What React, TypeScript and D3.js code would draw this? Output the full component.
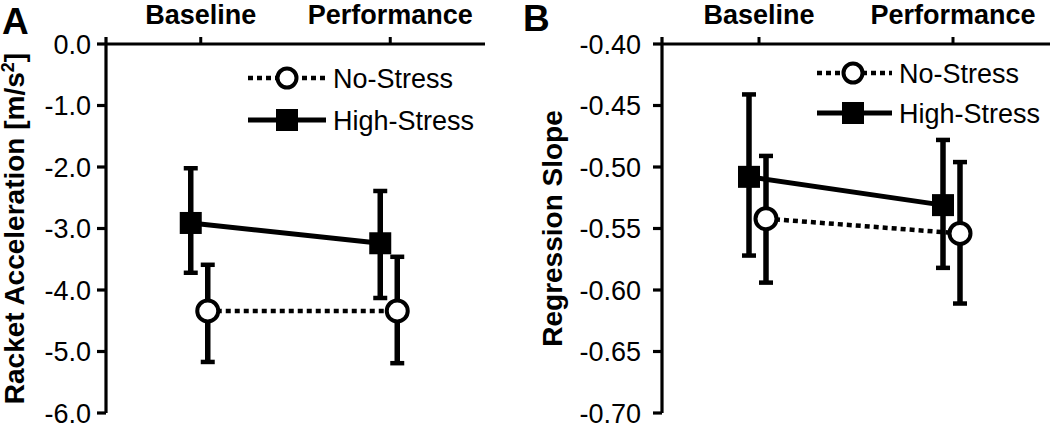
import React from "react";
import * as d3 from "d3";

const categories = ["Baseline", "Performance"];

// Panel A: Racket acceleration [m/s^2]
const accelNoStress = [-4.34, -4.34];
const accelNoStressLow = [-5.17, -5.19];
const accelNoStressHigh = [-3.59, -3.46];
const accelHighStress = [-2.91, -3.24];
const accelHighStressLow = [-3.72, -4.13];
const accelHighStressHigh = [-2.02, -2.39];
const accelTicks = [0, -1, -2, -3, -4, -5, -6];
const accelTickLabels = ["0.0", "-1.0", "-2.0", "-3.0", "-4.0", "-5.0", "-6.0"];

// Panel B: Regression slope
const slopeNoStress = [-0.542, -0.554];
const slopeNoStressLow = [-0.594, -0.611];
const slopeNoStressHigh = [-0.491, -0.496];
const slopeHighStress = [-0.508, -0.531];
const slopeHighStressLow = [-0.572, -0.582];
const slopeHighStressHigh = [-0.441, -0.478];
const slopeTicks = [-0.4, -0.45, -0.5, -0.55, -0.6, -0.65, -0.7];
const slopeTickLabels = ["-0.40", "-0.45", "-0.50", "-0.55", "-0.60", "-0.65", "-0.70"];

const legendLabels = ["No-Stress", "High-Stress"];

const FONT = "'Liberation Sans', Arial, Helvetica, sans-serif";

type Series = { mean: number[]; low: number[]; high: number[] };

type PanelProps = {
  letter: string;
  letterX: number;
  letterY: number;
  axisX: number;
  right: number;
  top: number;
  bottom: number;
  domain: [number, number];
  ticks: number[];
  tickLabels: string[];
  tickLabelX: number;
  yLabel: React.ReactNode;
  yLabelX: number;
  noStress: Series;
  highStress: Series;
  legendLineX0: number;
  legendLineX1: number;
  legendMarkerX: number;
  legendTextX: number;
  legendY: [number, number];
};

function Panel(p: PanelProps) {
  const x = d3.scalePoint<string>().domain(categories).range([p.axisX, p.right]).padding(0.5);
  const y = d3.scaleLinear().domain(p.domain).range([p.top, p.bottom]);
  const hsOff = -10;
  const nsOff = 7;
  const lineHS = d3
    .line<number>()
    .x((_, i) => x(categories[i])! + hsOff)
    .y((d) => y(d));
  const lineNS = d3
    .line<number>()
    .x((_, i) => x(categories[i])! + nsOff)
    .y((d) => y(d));
  const cap = 7;
  const sq = 22;
  const r = 10.5;
  const yMid = (p.top + p.bottom) / 2;

  const errBars = (s: Series, off: number, key: string) =>
    categories.map((c, i) => {
      const cx = x(c)! + off;
      return (
        <g key={key + i}>
          <line x1={cx} x2={cx} y1={y(s.high[i])} y2={y(s.low[i])} stroke="#000" strokeWidth={5.5} />
          <line x1={cx - cap} x2={cx + cap} y1={y(s.high[i])} y2={y(s.high[i])} stroke="#000" strokeWidth={4.5} />
          <line x1={cx - cap} x2={cx + cap} y1={y(s.low[i])} y2={y(s.low[i])} stroke="#000" strokeWidth={4.5} />
        </g>
      );
    });

  return (
    <g fontFamily={FONT}>
      <text x={p.letterX} y={p.letterY} fontSize={37} fontWeight="bold">
        {p.letter}
      </text>
      {/* top category axis */}
      <line x1={p.axisX} x2={p.right} y1={p.top} y2={p.top} stroke="#000" strokeWidth={3.2} />
      {categories.map((c) => (
        <g key={c}>
          <line x1={x(c)!} x2={x(c)!} y1={p.top} y2={p.top - 7} stroke="#000" strokeWidth={3} />
          <text x={x(c)!} y={24} textAnchor="middle" fontSize={27} fontWeight="bold">
            {c}
          </text>
        </g>
      ))}
      {/* y axis */}
      <line x1={p.axisX} x2={p.axisX} y1={p.top - 7} y2={p.bottom} stroke="#000" strokeWidth={3.2} />
      {p.ticks.map((t, i) => (
        <g key={t}>
          <line x1={p.axisX - 9} x2={p.axisX} y1={y(t)} y2={y(t)} stroke="#000" strokeWidth={3.2} />
          <text x={p.tickLabelX} y={y(t)} dy="0.36em" textAnchor="end" fontSize={27}>
            {p.tickLabels[i]}
          </text>
        </g>
      ))}
      <text
        transform={`translate(${p.yLabelX},${yMid}) rotate(-90)`}
        textAnchor="middle"
        fontSize={28}
        fontWeight="bold"
      >
        {p.yLabel}
      </text>
      {/* error bars */}
      {errBars(p.highStress, hsOff, "hs")}
      {errBars(p.noStress, nsOff, "ns")}
      {/* connecting lines */}
      <path d={lineHS(p.highStress.mean)!} fill="none" stroke="#000" strokeWidth={5} />
      <path d={lineNS(p.noStress.mean)!} fill="none" stroke="#000" strokeWidth={4.5} strokeDasharray="5,4" />
      {/* markers */}
      {categories.map((c, i) => (
        <rect
          key={"sq" + c}
          x={x(c)! + hsOff - sq / 2}
          y={y(p.highStress.mean[i]) - sq / 2}
          width={sq}
          height={sq}
          fill="#000"
        />
      ))}
      {categories.map((c, i) => (
        <circle
          key={"ci" + c}
          cx={x(c)! + nsOff}
          cy={y(p.noStress.mean[i])}
          r={r}
          fill="#fff"
          stroke="#000"
          strokeWidth={4}
        />
      ))}
      {/* legend */}
      <line
        x1={p.legendLineX0}
        x2={p.legendLineX1}
        y1={p.legendY[0]}
        y2={p.legendY[0]}
        stroke="#000"
        strokeWidth={4.5}
        strokeDasharray="5,4"
      />
      <circle cx={p.legendMarkerX} cy={p.legendY[0]} r={9.5} fill="#fff" stroke="#000" strokeWidth={4} />
      <text x={p.legendTextX} y={p.legendY[0]} dy="0.36em" fontSize={27}>
        {legendLabels[0]}
      </text>
      <line
        x1={p.legendLineX0}
        x2={p.legendLineX1}
        y1={p.legendY[1]}
        y2={p.legendY[1]}
        stroke="#000"
        strokeWidth={5}
      />
      <rect
        x={p.legendMarkerX - sq / 2}
        y={p.legendY[1] - sq / 2}
        width={sq}
        height={sq}
        fill="#000"
      />
      <text x={p.legendTextX} y={p.legendY[1]} dy="0.36em" fontSize={27}>
        {legendLabels[1]}
      </text>
    </g>
  );
}

export default function App() {
  return (
    <svg
      width={1050}
      height={425}
      style={{ position: "absolute", left: 0, top: 0, background: "#fff" }}
    >
      <rect width={1050} height={425} fill="#fff" />
      <Panel
        letter="A"
        letterX={2}
        letterY={34}
        axisX={106}
        right={485}
        top={44}
        bottom={413}
        domain={[0, -6]}
        ticks={accelTicks}
        tickLabels={accelTickLabels}
        tickLabelX={91}
        yLabel={
          <>
            Racket Acceleration [m/s
            <tspan baselineShift="super" fontSize={18}>
              2
            </tspan>
            ]
          </>
        }
        yLabelX={24}
        noStress={{ mean: accelNoStress, low: accelNoStressLow, high: accelNoStressHigh }}
        highStress={{ mean: accelHighStress, low: accelHighStressLow, high: accelHighStressHigh }}
        legendLineX0={248}
        legendLineX1={326}
        legendMarkerX={287}
        legendTextX={333}
        legendY={[78, 120]}
      />
      <Panel
        letter="B"
        letterX={523}
        letterY={31}
        axisX={662}
        right={1050}
        top={44}
        bottom={413}
        domain={[-0.4, -0.7]}
        ticks={slopeTicks}
        tickLabels={slopeTickLabels}
        tickLabelX={641}
        yLabel={<>Regression Slope</>}
        yLabelX={562}
        noStress={{ mean: slopeNoStress, low: slopeNoStressLow, high: slopeNoStressHigh }}
        highStress={{ mean: slopeHighStress, low: slopeHighStressLow, high: slopeHighStressHigh }}
        legendLineX0={817}
        legendLineX1={892}
        legendMarkerX={853}
        legendTextX={899}
        legendY={[73, 113]}
      />
    </svg>
  );
}
